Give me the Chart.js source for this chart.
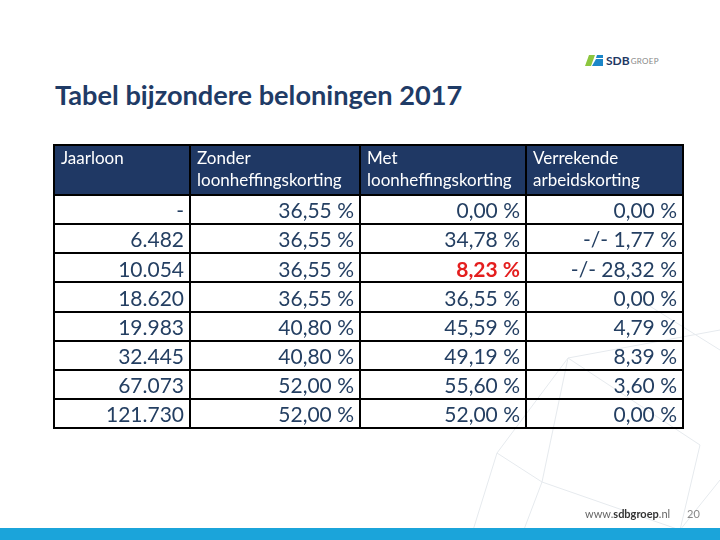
<!DOCTYPE html>
<html>
<head>
<meta charset="utf-8">
<script src="https://cdn.jsdelivr.net/npm/chart.js@4/dist/chart.umd.min.js"></script>
<style>
  body { margin: 0; width: 720px; height: 540px; position: relative; overflow: hidden; background: #fff; font-family: Lato, "Open Sans", sans-serif; }
  #tabel { position: absolute; left: 0; top: 0; }
  .deco { position: absolute; left: 0; top: 0; }
  h1 { position: absolute; left: 55px; top: 78px; margin: 0; font-size: 27.2px; font-weight: bold; color: #1f3b66; white-space: nowrap; }
  .logo { position: absolute; left: 585px; top: 53px; display: flex; align-items: center; }
  .logo b { font-size: 12px; color: #1f3864; margin-left: 3px; }
  .logo span { font-size: 8px; color: #888; margin-left: 1px; letter-spacing: 0.3px; }
  .site { position: absolute; left: 585px; top: 507px; font-size: 11px; color: #666; }
  .site b { color: #333; }
  .page { position: absolute; left: 687px; top: 507px; font-size: 11px; color: #888; }
  .band { position: absolute; left: 0; top: 528px; width: 720px; height: 12px; background: #1ba4da; }
</style>
</head>
<body>
<svg class="deco" width="720" height="540">
  <g stroke="#e6eaee" stroke-width="1" fill="none">
    <line x1="568" y1="358" x2="542" y2="482"/>
    <line x1="568" y1="358" x2="497" y2="453"/>
    <line x1="497" y1="453" x2="542" y2="482"/>
    <line x1="542" y1="482" x2="680" y2="530"/>
    <line x1="542" y1="482" x2="520" y2="540"/>
    <line x1="568" y1="358" x2="720" y2="330"/>
    <line x1="568" y1="358" x2="700" y2="445"/>
    <line x1="700" y1="445" x2="680" y2="530"/>
    <line x1="680" y1="530" x2="720" y2="480"/>
    <line x1="497" y1="453" x2="470" y2="540"/>
    <line x1="640" y1="300" x2="720" y2="350"/>
  </g>
</svg>
<h1>Tabel bijzondere beloningen 2017</h1>
<div class="logo">
  <svg width="18" height="11" viewBox="0 0 18 11">
    <polygon points="0,11 4,0 10,0 6,11" fill="#8cc63f"/>
    <polygon points="7,11 11,4 18,4 18,11" fill="#1b86c8"/>
    <polygon points="11,3 12,0 18,0 18,3" fill="#1b86c8"/>
  </svg>
  <b>SDB</b><span>GROEP</span>
</div>
<canvas id="tabel" width="720" height="540"></canvas>
<div class="site">www.<b>sdbgroep</b>.nl</div>
<div class="page">20</div>
<div class="band"></div>

<script>
// data
const columns = [['Jaarloon'], ['Zonder', 'loonheffingskorting'], ['Met', 'loonheffingskorting'], ['Verrekende', 'arbeidskorting']];
const jaarloon = [0, 6482, 10054, 18620, 19983, 32445, 67073, 121730];
const zonderKorting = [36.55, 36.55, 36.55, 36.55, 40.80, 40.80, 52.00, 52.00];
const metKorting = [0.00, 34.78, 8.23, 36.55, 45.59, 49.19, 55.60, 52.00];
const arbeidskorting = [0.00, -1.77, -28.32, 0.00, 4.79, 8.39, 3.60, 0.00];
const highlighted = [[2, 2]]; // [kolom, rij]

// layout
const colWidths = [136, 170, 166, 157];
const headerHeight = 50;
const rowHeight = 29.125;

const colEdges = [0];
colWidths.forEach(w => colEdges.push(colEdges[colEdges.length - 1] + w));
const rowEdges = [0, headerHeight];
jaarloon.forEach(() => rowEdges.push(rowEdges[rowEdges.length - 1] + rowHeight));
const totalW = colEdges[colEdges.length - 1];
const totalH = rowEdges[rowEdges.length - 1];

function fmtLoon(v) {
  if (v === 0) return '-';
  return String(v).replace(/\B(?=(\d{3})+(?!\d))/g, '.');
}
function fmtPct(v) {
  return (v < 0 ? '-/- ' : '') + Math.abs(v).toFixed(2).replace('.', ',') + ' %';
}

const series = [jaarloon, zonderKorting, metKorting, arbeidskorting];
const formats = [fmtLoon, fmtPct, fmtPct, fmtPct];

const datasets = series.map((vals, c) => ({
  label: columns[c].join(' '),
  data: vals.map((v, r) => ({ x: colEdges[c + 1], y: headerHeight + (r + 0.5) * rowHeight, text: formats[c](v) })),
  pointRadius: 0,
  showLine: false
}));

const tablePlugin = {
  id: 'tablePlugin',
  beforeDatasetsDraw(chart) {
    const { ctx, scales: { x, y } } = chart;
    ctx.save();
    // kop
    ctx.fillStyle = '#1f3864';
    ctx.fillRect(x.getPixelForValue(0), y.getPixelForValue(0), x.getPixelForValue(totalW) - x.getPixelForValue(0), y.getPixelForValue(headerHeight) - y.getPixelForValue(0));
    ctx.fillStyle = '#fff';
    ctx.font = '17px Lato, sans-serif';
    ctx.textAlign = 'left';
    ctx.textBaseline = 'middle';
    columns.forEach((lines, c) => {
      lines.forEach((t, i) => {
        ctx.fillText(t, x.getPixelForValue(colEdges[c]) + 7, y.getPixelForValue(0) + 14 + i * 22);
      });
    });
    // lijnen
    ctx.strokeStyle = '#000';
    ctx.lineWidth = 2;
    ctx.beginPath();
    colEdges.forEach(e => {
      const px = Math.round(x.getPixelForValue(e));
      ctx.moveTo(px, y.getPixelForValue(0));
      ctx.lineTo(px, y.getPixelForValue(totalH));
    });
    rowEdges.forEach(e => {
      const py = Math.round(y.getPixelForValue(e));
      ctx.moveTo(x.getPixelForValue(0) - 1, py);
      ctx.lineTo(x.getPixelForValue(totalW) + 1, py);
    });
    ctx.stroke();
    ctx.restore();
  },
  afterDatasetsDraw(chart) {
    const { ctx } = chart;
    ctx.save();
    ctx.textAlign = 'right';
    ctx.textBaseline = 'middle';
    chart.data.datasets.forEach((ds, c) => {
      chart.getDatasetMeta(c).data.forEach((pt, r) => {
        const hl = highlighted.some(h => h[0] === c && h[1] === r);
        ctx.fillStyle = hl ? '#e41e1e' : '#243f62';
        ctx.font = (hl ? 'bold ' : '') + '21px Lato, sans-serif';
        ctx.fillText(ds.data[r].text, pt.x - 6, pt.y + 2);
      });
    });
    ctx.restore();
  }
};

new Chart(document.getElementById('tabel'), {
  type: 'scatter',
  data: { datasets },
  options: {
    responsive: false,
    animation: false,
    events: [],
    layout: { padding: { left: 54, top: 145, right: 37, bottom: 112 } },
    plugins: { legend: { display: false }, tooltip: { enabled: false } },
    scales: {
      x: { type: 'linear', display: false, min: 0, max: totalW },
      y: { type: 'linear', display: false, min: 0, max: totalH, reverse: true }
    }
  },
  plugins: [tablePlugin]
});
</script>
</body>
</html>
